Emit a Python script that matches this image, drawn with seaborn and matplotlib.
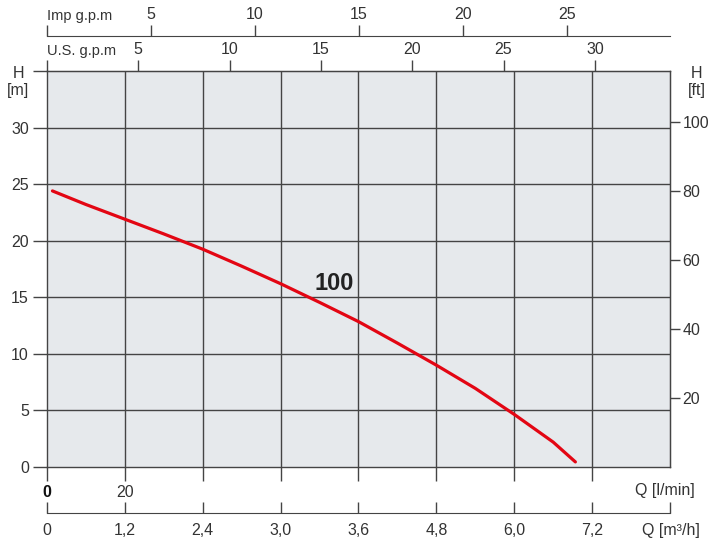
import matplotlib
matplotlib.use("Agg")
import matplotlib.pyplot as plt
import seaborn as sns
import pandas as pd

# ---- data ----
q_lmin = [1.4, 10, 20, 30, 40, 50, 60, 70, 80, 90, 100, 110, 120, 130, 135.7]   # flow, l/min
h_m = [24.4, 23.2, 21.9, 20.6, 19.25, 17.75, 16.2, 14.55, 12.85, 10.95, 9.0, 6.95, 4.65, 2.2, 0.45]  # head, m
curve_label = "100"

lmin_ticks = [0, 20, 40, 60, 80, 100, 120, 140]
lmin_labels = ["0", "20", "", "", "", "", "", ""]
m3h_ticks = [0, 20, 40, 60, 80, 100, 120, 140, 160]
m3h_labels = ["0", "1,2", "2,4", "3,0", "3,6", "4,8", "6,0", "7,2", ""]
us_ticks = [0, 5, 10, 15, 20, 25, 30]
imp_ticks = [0, 5, 10, 15, 20, 25]
h_ticks = [0, 5, 10, 15, 20, 25, 30, 35]
ft_ticks = [20, 40, 60, 80, 100]

# conversion factors as drawn on the chart
LMIN_PER_US = 4.69
LMIN_PER_IMP = 5.34
FT_PER_M = 3.2808

sns.set_style("white")
plt.rcParams['font.family'] = ['Liberation Sans', 'DejaVu Sans']
TXT = "#333333"
LINE = "#444444"

fig = plt.figure(figsize=(7.13, 5.44), dpi=100)
ax = fig.add_axes([47/713, 77/544, 623/713, 396/544])
ax.set_facecolor("#e6e9ec")

df = pd.DataFrame({"Q": q_lmin, "H": h_m})
sns.lineplot(data=df, x="Q", y="H", ax=ax, color="#e30613", lw=2.3, sort=True)

ax.set_xlim(0, 160)
ax.set_ylim(0, 35)
ax.set_xlabel("")
ax.set_ylabel("")

# grid
for v in range(20, 160, 20):
    ax.axvline(v, color=LINE, lw=1.0, zorder=0.5)
for v in range(5, 35, 5):
    ax.axhline(v, color=LINE, lw=1.0, zorder=0.5)

for s in ax.spines.values():
    s.set_color(LINE)
    s.set_linewidth(1.0)

# left axis
ax.set_yticks(h_ticks)
ax.set_yticklabels([str(t) for t in h_ticks[:-1]] + [""])
ax.tick_params(axis='y', direction='out', length=10, width=1, color=LINE,
               labelsize=11.5, labelcolor=TXT, pad=3, left=True)

# bottom l/min axis
ax.set_xticks(lmin_ticks)
ax.set_xticklabels(lmin_labels)
ax.tick_params(axis='x', direction='out', length=10, width=1, color=LINE,
               labelsize=11.5, labelcolor=TXT, pad=3, bottom=True, top=False)
ax.get_xticklabels()[0].set_fontweight('bold')
ax.get_xticklabels()[0].set_color('#111111')

# bottom m3/h axis
sec_m3 = ax.secondary_xaxis(-46/396)
sec_m3.set_xticks(m3h_ticks)
sec_m3.set_xticklabels(m3h_labels)
sec_m3.tick_params(direction='in', length=8, width=1, color=LINE,
                   labelsize=11.5, labelcolor=TXT, pad=7)
sec_m3.spines['bottom'].set_color(LINE)

# top US gpm axis
sec_us = ax.secondary_xaxis('top', functions=(lambda q: q / LMIN_PER_US,
                                              lambda g: g * LMIN_PER_US))
sec_us.set_xticks(us_ticks)
sec_us.set_xticklabels([""] + [str(t) for t in us_ticks[1:]])
sec_us.tick_params(direction='out', length=8, width=1, color=LINE,
                   labelsize=11.5, labelcolor=TXT, pad=2)
sec_us.spines['top'].set_color(LINE)

# top Imp gpm axis
sec_imp = ax.secondary_xaxis(1 + 35/396, functions=(lambda q: q / LMIN_PER_IMP,
                                                    lambda g: g * LMIN_PER_IMP))
sec_imp.set_xticks(imp_ticks)
sec_imp.set_xticklabels([""] + [str(t) for t in imp_ticks[1:]])
sec_imp.tick_params(direction='out', length=8, width=1, color=LINE,
                    labelsize=11.5, labelcolor=TXT, pad=2)
sec_imp.spines['top'].set_color(LINE)

# right ft axis
sec_ft = ax.secondary_yaxis('right', functions=(lambda m: m * FT_PER_M,
                                                lambda f: f / FT_PER_M))
sec_ft.set_yticks(ft_ticks)
sec_ft.set_yticklabels([str(t) for t in ft_ticks])
sec_ft.tick_params(direction='out', length=7, width=1, color=LINE,
                   labelsize=11.5, labelcolor=TXT, pad=2)
sec_ft.spines['right'].set_color(LINE)

# labels
ax.text(73.7, 16.2, curve_label, fontsize=17, fontweight='bold', color='#222222',
        ha='center', va='center')
fig.text(47/713, 1 - 16/544, "Imp g.p.m", fontsize=10.5, color=TXT, ha='left', va='center')
fig.text(47/713, 1 - 51/544, "U.S. g.p.m", fontsize=10.5, color=TXT, ha='left', va='center')
fig.text(18/713, 1 - 73/544, "H", fontsize=11.5, color=TXT, ha='center', va='center')
fig.text(18/713, 1 - 90/544, "[m]", fontsize=11.5, color=TXT, ha='center', va='center')
fig.text(697/713, 1 - 73/544, "H", fontsize=11.5, color=TXT, ha='center', va='center')
fig.text(697/713, 1 - 90/544, "[ft]", fontsize=11.5, color=TXT, ha='center', va='center')
fig.text(695/713, 1 - 491/544, "Q [l/min]", fontsize=11.5, color=TXT, ha='right', va='center')
fig.text(700/713, 1 - 530/544, "Q [m³/h]", fontsize=11.5, color=TXT, ha='right', va='center')

fig.savefig("out.png", dpi=100, facecolor="white")
